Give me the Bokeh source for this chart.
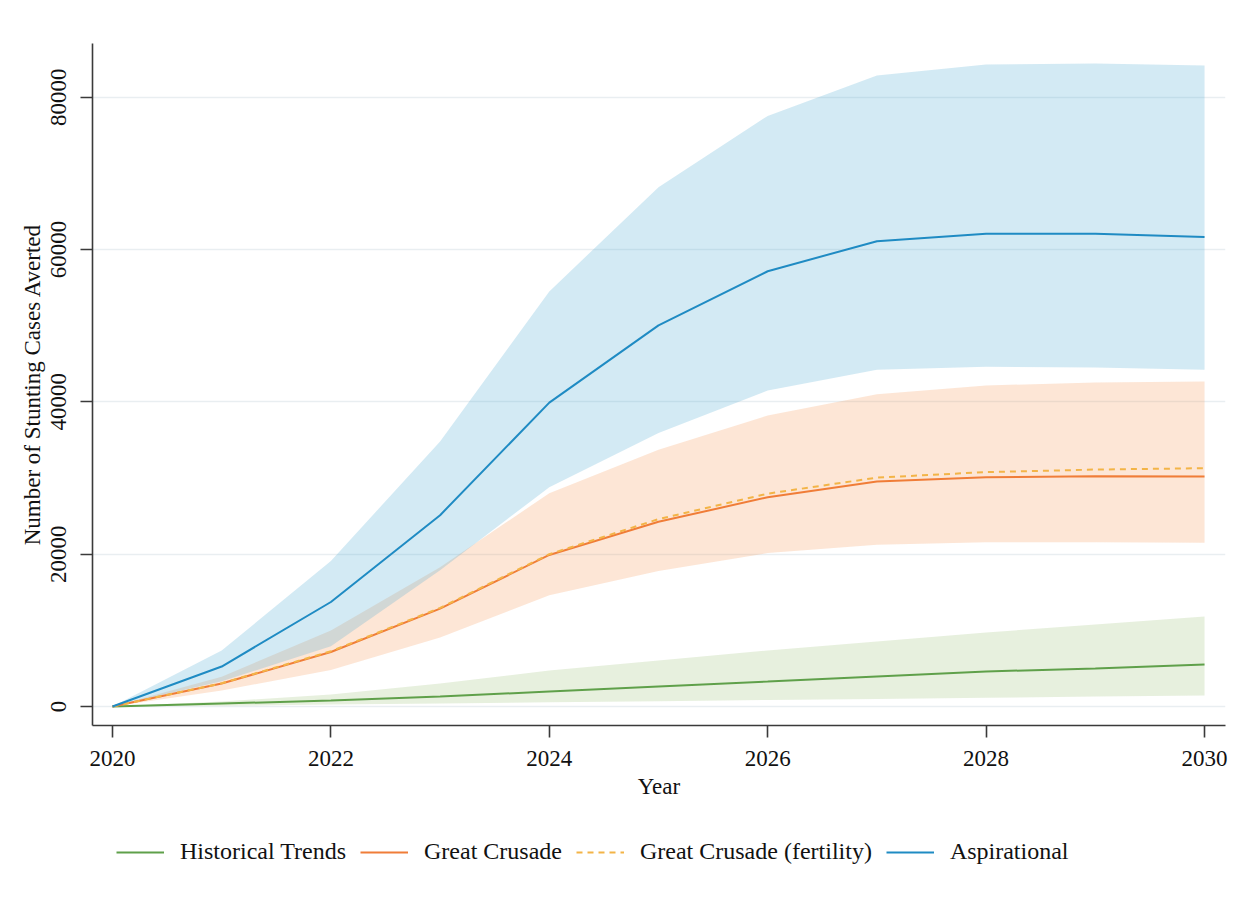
from bokeh.plotting import figure
from bokeh.layouts import column
from bokeh.models import Range1d, FixedTicker, Legend, LegendItem, BasicTickFormatter
from bokeh.embed import file_html
from bokeh.resources import INLINE

years = [2020, 2021, 2022, 2023, 2024, 2025, 2026, 2027, 2028, 2029, 2030]

hist = [0, 390, 790, 1310, 1970, 2630, 3280, 3940, 4600, 4990, 5520]
hist_hi = [0, 660, 1580, 3020, 4730, 6040, 7360, 8540, 9720, 10770, 11820]
hist_lo = [0, 100, 250, 400, 550, 700, 850, 1000, 1150, 1300, 1450]

gc = [0, 3020, 7150, 12850, 19900, 24250, 27480, 29550, 30100, 30230, 30200]
gc_fert = [0, 3050, 7250, 12950, 20000, 24600, 27950, 30050, 30780, 31110, 31290]
gc_hi = [0, 3900, 9980, 18300, 28000, 33700, 38200, 41000, 42150, 42550, 42680]
gc_lo = [0, 2100, 4800, 9050, 14600, 17800, 20150, 21250, 21550, 21560, 21500]

asp = [0, 5250, 13720, 25120, 39900, 50040, 57150, 61100, 62080, 62080, 61640]
asp_hi = [0, 7350, 19100, 34800, 54500, 68190, 77550, 82860, 84300, 84420, 84180]
asp_lo = [0, 3300, 7900, 17900, 28800, 35900, 41500, 44200, 44600, 44500, 44200]

x_ticks = [2020, 2022, 2024, 2026, 2028, 2030]
y_ticks = [0, 20000, 40000, 60000, 80000]

labels = ["Historical Trends", "Great Crusade", "Great Crusade (fertility)", "Aspirational"]
line_colors = ["#5fa04a", "#f07d38", "#f3b447", "#1f8bc3"]
line_dashes = ["solid", "solid", "6 5", "solid"]

FONT = "Liberation Serif"

p = figure(width=1238, height=810, output_backend="svg", toolbar_location=None,
           x_range=Range1d(2019.817, 2030.192), y_range=Range1d(-2495, 87054),
           min_border_left=92, min_border_right=13, min_border_top=43, min_border_bottom=85)
p.outline_line_color = None
p.background_fill_color = "white"
p.border_fill_color = "white"

# bands
p.varea(x=years, y1=hist_lo, y2=hist_hi, fill_color="#9fc37b", fill_alpha=0.25)
p.varea(x=years, y1=gc_lo, y2=gc_hi, fill_color="#f79b5b", fill_alpha=0.25)
p.varea(x=years, y1=asp_lo, y2=asp_hi, fill_color="#4fabd3", fill_alpha=0.25)

# lines
series = [hist, gc, gc_fert, asp]
for ys, c, d in zip(series, line_colors, line_dashes):
    p.line(years, ys, line_color=c, line_width=2, line_dash=d)

# axes
for ax in (p.xaxis[0], p.yaxis[0]):
    ax.axis_line_color = "#3a3a3a"
    ax.axis_line_width = 1.6
    ax.major_tick_line_color = "#3a3a3a"
    ax.major_tick_line_width = 1.6
    ax.major_tick_out = 12
    ax.major_tick_in = 0
    ax.minor_tick_line_color = None
    ax.major_label_text_font = FONT
    ax.major_label_text_font_size = "23px"
    ax.major_label_text_color = "#111111"
    ax.axis_label_text_font = FONT
    ax.axis_label_text_font_style = "normal"
    ax.axis_label_text_color = "#111111"

p.xaxis.ticker = FixedTicker(ticks=x_ticks)
p.yaxis.ticker = FixedTicker(ticks=y_ticks)
p.yaxis.formatter = BasicTickFormatter(use_scientific=False)
p.yaxis.major_label_orientation = "vertical"
p.xaxis.major_label_standoff = 13
p.yaxis.major_label_standoff = 14
p.xaxis.axis_label = "Year"
p.xaxis.axis_label_text_font_size = "23px"
p.xaxis.axis_label_standoff = 5
p.yaxis.axis_label = "Number of Stunting Cases Averted"
p.yaxis.axis_label_text_font_size = "23px"
p.yaxis.axis_label_standoff = 4

p.xgrid.grid_line_color = None
p.ygrid.grid_line_color = "#e9eef1"
p.ygrid.grid_line_width = 1.5

# legend strip (series drawn out of view; only their legend keys show)
q = figure(width=1238, height=85, output_backend="svg", toolbar_location=None,
           x_range=Range1d(0, 1), y_range=Range1d(0, 1), min_border=0)
q.axis.visible = False
q.grid.visible = False
q.outline_line_color = None
q.background_fill_color = "white"
q.border_fill_color = "white"
items = []
for lab, ys, c, d in zip(labels, series, line_colors, line_dashes):
    r = q.line(years, ys, line_color=c, line_width=2, line_dash=d)
    items.append(LegendItem(label=lab, renderers=[r]))

legend = Legend(items=items, orientation="horizontal", location=(24, 30))
legend.label_text_font = FONT
legend.label_text_font_size = "24px"
legend.label_text_color = "#111111"
legend.glyph_width = 48
legend.glyph_height = 20
legend.label_standoff = 16
legend.spacing = 14
legend.padding = 0
legend.margin = 0
legend.border_line_color = None
legend.background_fill_alpha = 0
q.add_layout(legend, "center")

open("out.html", "w").write(file_html(column(p, q, spacing=0), INLINE))
